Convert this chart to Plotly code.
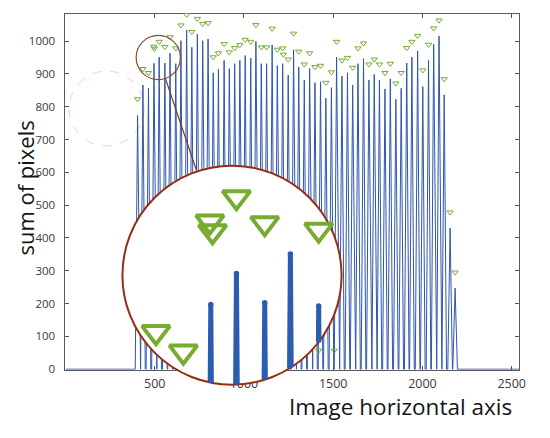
import math
import plotly.graph_objects as go

# ---------------- data ----------------
peak_x = [404, 434, 465, 496, 525, 557, 586, 618, 647, 679, 708, 739, 769, 799,
          828, 857, 889, 918, 948, 977, 1007, 1038, 1067, 1097, 1127, 1158, 1187, 1217,
          1248, 1278, 1307, 1338, 1368, 1398, 1429, 1459, 1490, 1519, 1549, 1580, 1609, 1639,
          1670, 1700, 1730, 1759, 1790, 1820, 1851, 1881, 1912, 1941, 1973, 2002, 2034, 2063,
          2093, 2122, 2155, 2183]
peak_h = [773, 866, 856, 932, 951, 933, 963, 931, 1001, 1033, 981, 1021, 1001, 1006,
          903, 914, 941, 916, 931, 941, 956, 948, 999, 931, 931, 988, 925, 931,
          896, 973, 921, 881, 916, 873, 876, 826, 858, 951, 893, 903, 866, 931,
          946, 881, 898, 881, 854, 885, 823, 856, 933, 951, 970, 861, 941, 990,
          1015, 836, 430, 247]
signal_end = 2541

tri_x = [404, 434, 465, 495, 498, 525, 557, 586, 618, 647, 679, 708, 739, 769, 799,
         828, 857, 889, 918, 948, 977, 1007, 1038, 1067, 1097, 1127, 1158, 1187, 1217, 1221,
         1248, 1278, 1307, 1338, 1368, 1398, 1418, 1429, 1459, 1490, 1506, 1519, 1549, 1580,
         1609, 1639, 1670, 1700, 1730, 1759, 1790, 1820, 1851, 1881, 1912, 1941, 1973, 2002,
         2034, 2063, 2093, 2122, 2155, 2183]
tri_y = [823, 915, 903, 983, 977, 998, 982, 1012, 978, 1048, 1080, 1028, 1068, 1052, 1055,
         951, 963, 991, 966, 979, 988, 1004, 998, 1049, 981, 981, 1038, 974, 978, 959,
         944, 1023, 968, 929, 963, 921, 57, 925, 873, 905, 57, 998, 941, 949,
         919, 978, 993, 929, 944, 929, 903, 931, 871, 903, 979, 998, 1016, 911,
         989, 1039, 1063, 884, 478, 295]

x_ticks = [500, 1000, 1500, 2000, 2500]
y_ticks = [0, 100, 200, 300, 400, 500, 600, 700, 800, 900, 1000]

zoom_center = (520, 950)   # data point that is magnified

# ---------------- geometry / style ----------------
W, H = 550, 438
PL, PR, PT, PB = 66.3, 525.7, 14.0, 375.0
X_RANGE = [0, 2541]
Y_RANGE = [-2, 1083]
SPIKE_HALF = 13

small_r_px = 22.4
big_c_px = (235.0, 279.0)
big_r_px = 111.0
MAG = big_r_px / small_r_px

kx = (PR - PL) / (X_RANGE[1] - X_RANGE[0])
ky = (PB - PT) / (Y_RANGE[1] - Y_RANGE[0])


def px2paper(px, py):
    return px / W, 1 - py / H


# signal polyline
sx, sy = [0], [0]
for x, h in zip(peak_x, peak_h):
    sx += [x - SPIKE_HALF, x, x + SPIKE_HALF]
    sy += [0, h, 0]
sx.append(signal_end)
sy.append(0)

cx, cy = zoom_center
rx = small_r_px / kx
ry = small_r_px / ky


def inside(x, y):
    return ((x - cx) / rx) ** 2 + ((y - cy) / ry) ** 2 < 1


def clip_ellipse(xs, ys):
    ox, oy = [], []
    prev_end_inside = False
    for i in range(len(xs) - 1):
        x0, y0, x1, y1 = xs[i], ys[i], xs[i + 1], ys[i + 1]
        u0, v0 = (x0 - cx) / rx, (y0 - cy) / ry
        u1, v1 = (x1 - cx) / rx, (y1 - cy) / ry
        du, dv = u1 - u0, v1 - v0
        a = du * du + dv * dv
        b = 2 * (u0 * du + v0 * dv)
        c = u0 * u0 + v0 * v0 - 1
        disc = b * b - 4 * a * c
        if a == 0 or disc <= 0:
            prev_end_inside = False
            continue
        s = math.sqrt(disc)
        t0 = max((-b - s) / (2 * a), 0.0)
        t1 = min((-b + s) / (2 * a), 1.0)
        if t0 >= t1:
            prev_end_inside = False
            continue
        pa = (x0 + t0 * (x1 - x0), y0 + t0 * (y1 - y0))
        pb = (x0 + t1 * (x1 - x0), y0 + t1 * (y1 - y0))
        if not (prev_end_inside and t0 == 0.0):
            if ox:
                ox.append(None); oy.append(None)
            ox.append(pa[0]); oy.append(pa[1])
        ox.append(pb[0]); oy.append(pb[1])
        prev_end_inside = (t1 == 1.0)
    return ox, oy


ix, iy = clip_ellipse(sx, sy)
mx, my = [], []
for x, y in zip(tri_x, tri_y):
    if inside(x, y):
        mx.append(x); my.append(y)
tx, ty = [], []
for x, h in zip(peak_x, peak_h):
    if inside(x, h):
        tx.append(x); ty.append(h)

LINE_C = '#2f56ab'
INSET_C = '#2a5cb0'
GREEN = '#77AC30'

fig = go.Figure()
fig.add_trace(go.Scatter(x=sx, y=sy, mode='lines', line=dict(color=LINE_C, width=1),
                         xaxis='x', yaxis='y', hoverinfo='skip'))
fig.add_trace(go.Scatter(x=tri_x, y=tri_y, mode='markers', cliponaxis=False,
                         marker=dict(symbol='triangle-down-open', size=5.5, color=GREEN,
                                     line=dict(width=1, color=GREEN)),
                         xaxis='x', yaxis='y', hoverinfo='skip'))
fig.add_trace(go.Scatter(x=ix, y=iy, mode='lines', line=dict(color=INSET_C, width=5),
                         xaxis='x2', yaxis='y2', hoverinfo='skip'))
fig.add_trace(go.Scatter(x=tx, y=ty, mode='markers',
                         marker=dict(symbol='circle', size=5.5, color=INSET_C, line=dict(width=0)),
                         xaxis='x2', yaxis='y2', hoverinfo='skip'))
fig.add_trace(go.Scatter(x=mx, y=my, mode='markers',
                         marker=dict(symbol='triangle-down-open', size=24, color=GREEN,
                                     line=dict(width=4, color=GREEN)),
                         xaxis='x2', yaxis='y2', hoverinfo='skip'))

pad = 5
half = big_r_px + pad
bx, by = big_c_px
ix_range = [cx - half / (kx * MAG), cx + half / (kx * MAG)]
iy_range = [cy - half / (ky * MAG), cy + half / (ky * MAG)]

shapes = []
# faint ghost dashed circle
g0 = px2paper(70, 148); g1 = px2paper(146, 72)
shapes.append(dict(type='circle', xref='paper', yref='paper', x0=g0[0], y0=g0[1], x1=g1[0], y1=g1[1],
                   line=dict(color='#f6c6f0', width=1, dash='dash'), layer='below'))
# small circle
shapes.append(dict(type='circle', xref='x', yref='y', x0=cx - rx, x1=cx + rx, y0=cy - ry, y1=cy + ry,
                   line=dict(color='#8a4a2c', width=1.2), layer='above'))
# big magnifier circle
shapes.append(dict(type='circle', xref='x2', yref='y2', x0=cx - rx, x1=cx + rx, y0=cy - ry, y1=cy + ry,
                   fillcolor='white', line=dict(color='#962d12', width=2), layer='below'))
# connecting line
scx = PL + (cx - X_RANGE[0]) * kx
scy = PB - (cy - Y_RANGE[0]) * ky
dx, dy = bx - scx, by - scy
L = math.hypot(dx, dy)
ux, uy = dx / L, dy / L
p0 = px2paper(scx + small_r_px * ux, scy + small_r_px * uy)
p1 = px2paper(bx - big_r_px * ux, by - big_r_px * uy)
shapes.append(dict(type='line', xref='paper', yref='paper', x0=p0[0], y0=p0[1], x1=p1[0], y1=p1[1],
                   line=dict(color='#7a3a1a', width=1.2), layer='above'))

FONT = 'Open Sans'
fig.update_layout(
    width=W, height=H, autosize=False,
    margin=dict(l=0, r=0, t=0, b=0),
    paper_bgcolor='white', plot_bgcolor='rgba(0,0,0,0)',
    showlegend=False, hovermode=False,
    font=dict(family=FONT, color='#333333'),
    xaxis=dict(domain=[PL / W, PR / W], range=X_RANGE, tickvals=x_ticks,
               ticks='inside', ticklen=4, tickcolor='#555555', showline=True, linecolor='#5a5a5a',
               linewidth=1, mirror='ticks', showgrid=False, zeroline=False, layer='below traces',
               tickfont=dict(size=12.5, color='#3a3a3a'), ticklabelstandoff=2, anchor='y'),
    yaxis=dict(domain=[1 - PB / H, 1 - PT / H], range=Y_RANGE, tickvals=y_ticks,
               ticks='inside', ticklen=4, tickcolor='#555555', showline=True, linecolor='#5a5a5a',
               linewidth=1, mirror='ticks', showgrid=False, zeroline=False, layer='below traces',
               tickfont=dict(size=11.5, color='#3a3a3a'), ticklabelstandoff=7, anchor='x'),
    xaxis2=dict(domain=[(bx - half) / W, (bx + half) / W], range=ix_range, visible=False,
                anchor='y2', showgrid=False, zeroline=False),
    yaxis2=dict(domain=[1 - (by + half) / H, 1 - (by - half) / H], range=iy_range, visible=False,
                anchor='x2', showgrid=False, zeroline=False),
    shapes=shapes,
    annotations=[
        dict(text='Image horizontal axis', x=406 / W, y=1 - 412 / H, xref='paper', yref='paper',
             xanchor='center', yanchor='middle', showarrow=False,
             font=dict(family=FONT, size=22.5, color='#151515')),
        dict(text='sum of pixels', x=25 / W, y=1 - 190.5 / H, xref='paper', yref='paper',
             xanchor='center', yanchor='middle', showarrow=False, textangle=-90,
             font=dict(family=FONT, size=22, color='#151515')),
    ],
)

fig.write_html('out.html', config={'displayModeBar': False, 'staticPlot': True},
               post_script="document.body.style.margin='0';document.body.style.padding='0';")
